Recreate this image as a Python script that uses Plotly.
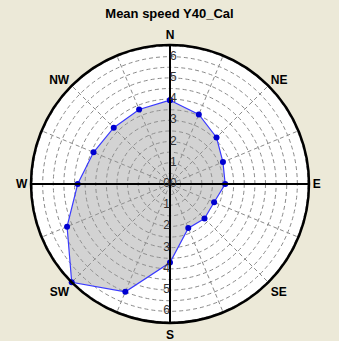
import plotly.graph_objects as go

# Wind directions (clockwise from north) and mean speed per sector
directions = ["N", "NNE", "NE", "ENE", "E", "ESE", "SE", "SSE",
              "S", "SSW", "SW", "WSW", "W", "WNW", "NW", "NNW"]
angles = [0, 22.5, 45, 67.5, 90, 112.5, 135, 157.5,
          180, 202.5, 225, 247.5, 270, 292.5, 315, 337.5]
mean_speed = [3.95, 3.55, 3.1, 2.7, 2.6, 2.25, 2.3, 2.25,
              3.7, 5.5, 6.55, 5.25, 4.35, 3.9, 3.75, 3.8]

# Compass labels shown on the angular axis (only the 8 main points)
compass_labels = ["N", "", "NE", "", "E", "", "SE", "",
                  "S", "", "SW", "", "W", "", "NW", ""]

# Speed scale labels written along the N and S axes
scale_values = [0, 1, 2, 3, 4, 5, 6]
ring_values = [0.5, 1, 1.5, 2, 2.5, 3, 3.5, 4, 4.5, 5, 5.5, 6, 6.5]
r_max = 6.55

fig = go.Figure()

# Closed speed polygon
fig.add_trace(go.Scatterpolar(
    r=mean_speed + mean_speed[:1],
    theta=angles + angles[:1],
    mode="lines+markers",
    fill="toself",
    fillcolor="rgba(150,150,150,0.42)",
    line=dict(color="#3a3aff", width=1.2),
    marker=dict(color="#0000d0", size=6, symbol="circle"),
    hoverinfo="skip",
))

# Solid N-S and E-W cross lines
for a, b in [(0, 180), (90, 270)]:
    fig.add_trace(go.Scatterpolar(
        r=[r_max, 0, r_max], theta=[a, a, b],
        mode="lines", line=dict(color="black", width=2),
        hoverinfo="skip",
    ))

# Scale labels along the north axis (right side) and south axis (left side)
label_font = dict(family="Liberation Sans, Arial", size=12, color="#333333")
fig.add_trace(go.Scatterpolar(
    r=scale_values, theta=[0] * len(scale_values),
    mode="text", text=[str(v) for v in scale_values],
    textposition="middle right", textfont=label_font,
    hoverinfo="skip",
))
fig.add_trace(go.Scatterpolar(
    r=scale_values, theta=[180] * len(scale_values),
    mode="text", text=[str(v) for v in scale_values],
    textposition="middle left", textfont=label_font,
    hoverinfo="skip",
))

W, H = 339, 341
fig.update_layout(
    width=W, height=H,
    margin=dict(l=0, r=0, t=0, b=0),
    paper_bgcolor="#ECE9D8",
    showlegend=False,
    title=dict(
        text="<b>Mean speed Y40_Cal</b>",
        x=0.5, xanchor="center", y=1 - 13 / H, yanchor="middle",
        font=dict(family="Liberation Sans, Arial", size=13, color="black"),
    ),
    polar=dict(
        domain=dict(x=[31 / W, 309 / W], y=[1 - 323 / H, 1 - 45 / H]),
        bgcolor="white",
        angularaxis=dict(
            direction="clockwise", rotation=90,
            tickmode="array", tickvals=angles, ticktext=compass_labels,
            tickfont=dict(family="Liberation Sans, Arial", size=12, color="black",
                          weight="bold"),
            showline=True, linecolor="black", linewidth=2.5,
            ticks="", gridcolor="#8a8a8a", griddash="4px,3px", gridwidth=1,
        ),
        radialaxis=dict(
            range=[0, r_max], tickmode="array", tickvals=ring_values,
            showticklabels=False, ticks="", showline=False,
            gridcolor="#8a8a8a", griddash="4px,3px", gridwidth=1,
        ),
    ),
)

fig.write_html("out.html")
